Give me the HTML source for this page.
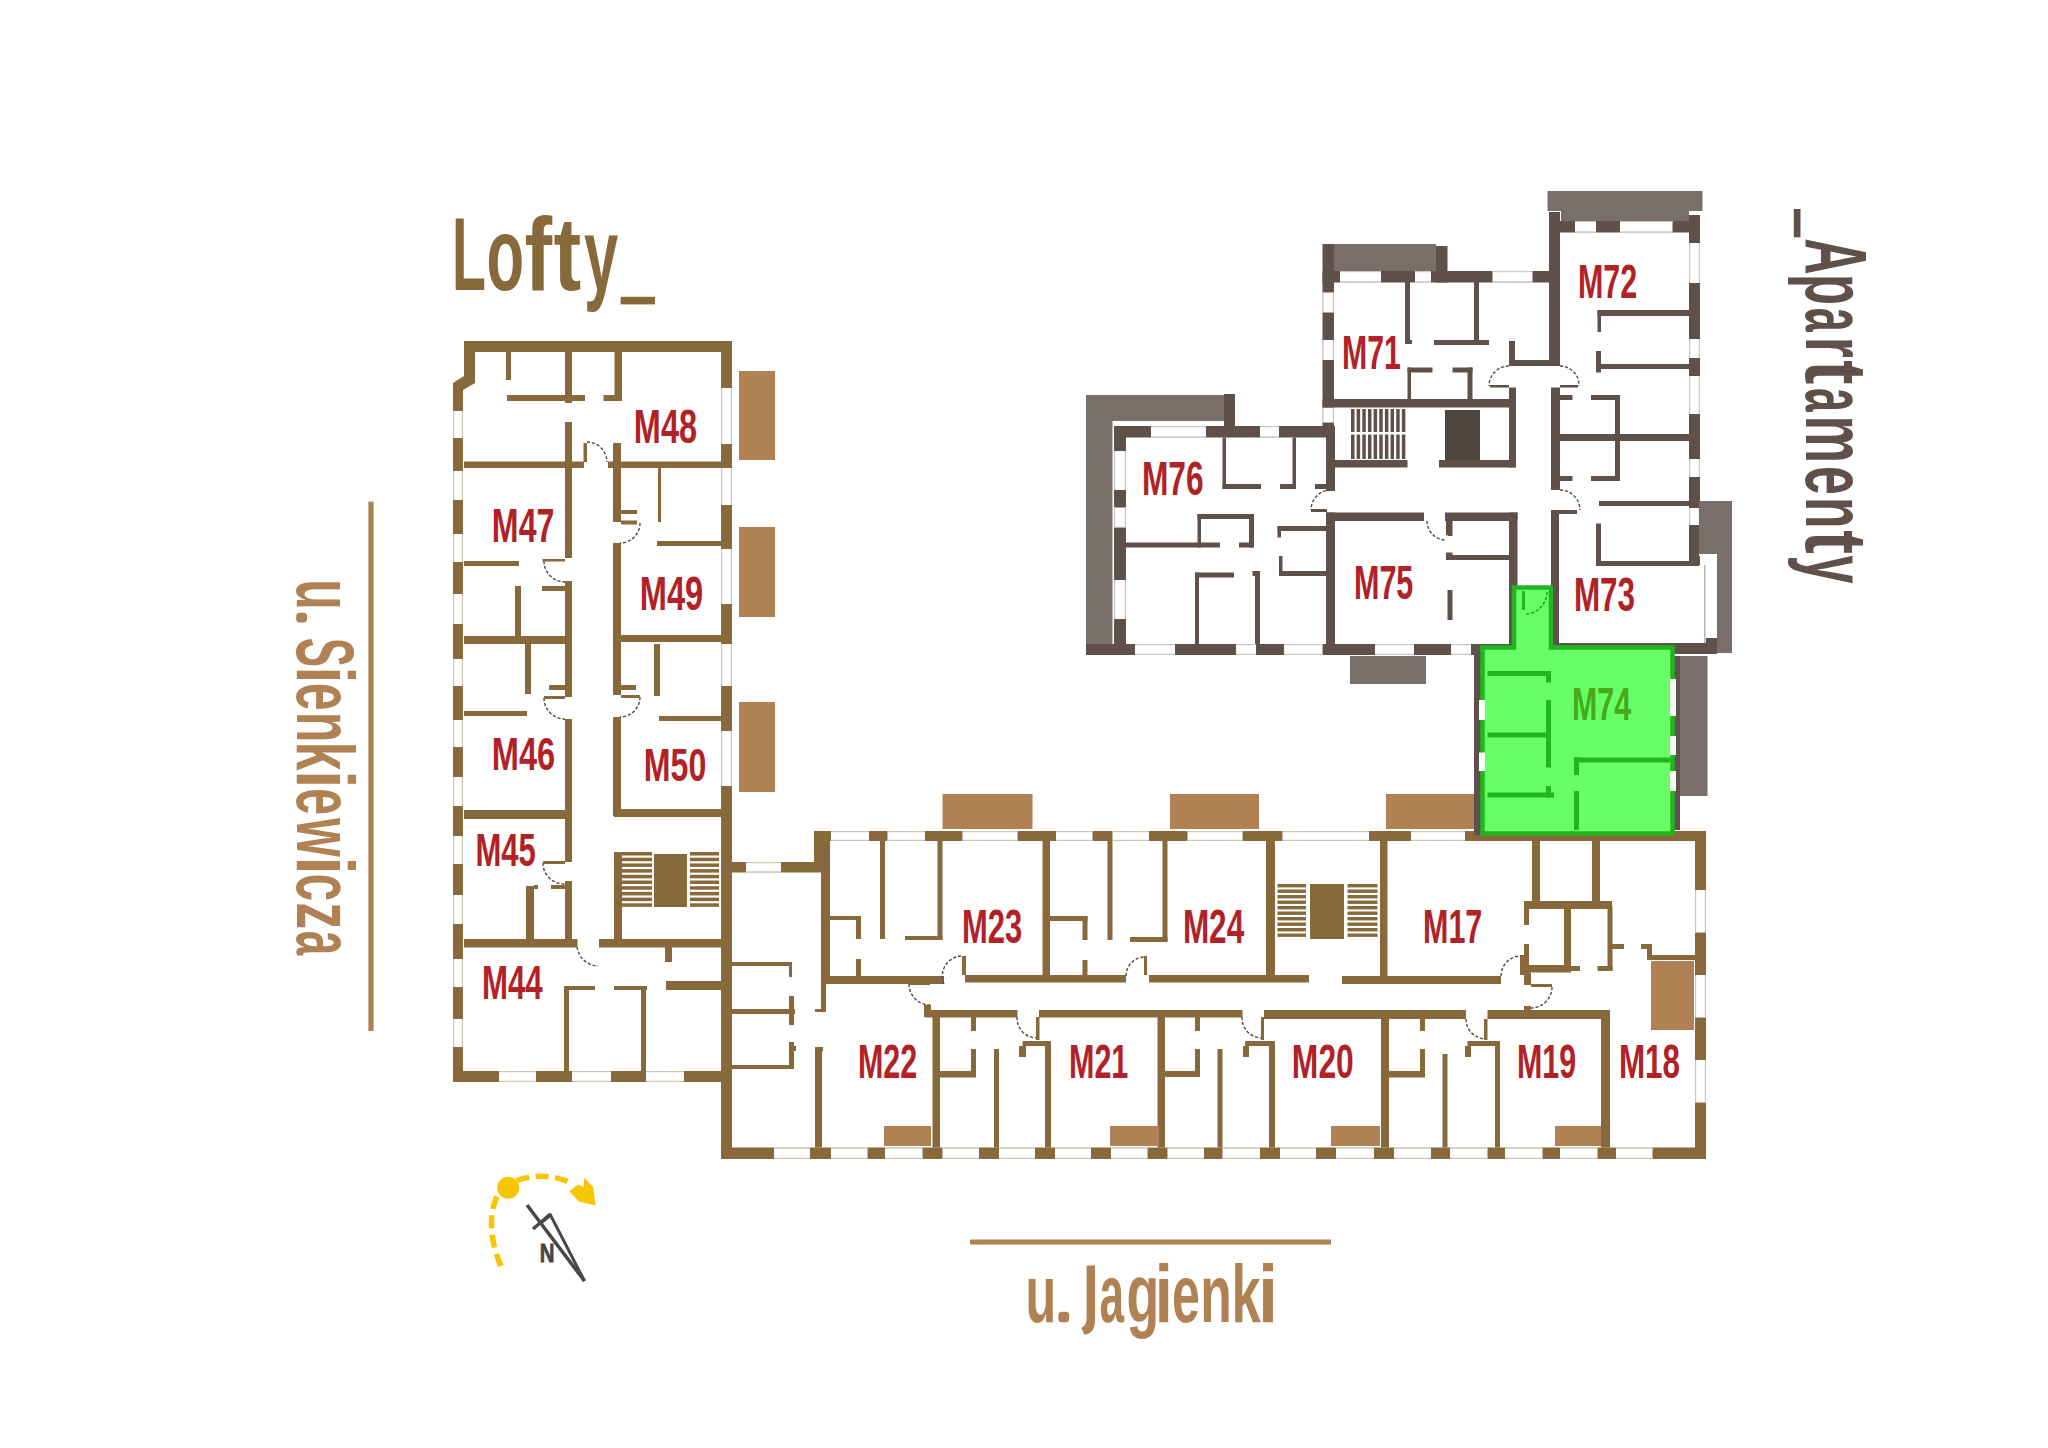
<!DOCTYPE html>
<html><head><meta charset="utf-8"><style>
html,body{margin:0;padding:0;background:#fff;width:2048px;height:1448px;overflow:hidden}
svg{display:block}
text{font-family:"Liberation Sans",sans-serif}
</style></head><body>
<svg width="2048" height="1448" viewBox="0 0 2048 1448">
<rect width="2048" height="1448" fill="#fff"/>
<rect x="464" y="341" width="268" height="11" fill="#87693b"/>
<polygon points="464,341 475,341 475,383 463,390 463,1082 453,1082 453,383 464,376" fill="#87693b"/>
<rect x="453" y="1071" width="278" height="11" fill="#87693b"/>
<rect x="721" y="341" width="11" height="818" fill="#87693b"/>
<rect x="453" y="411" width="10" height="27" fill="#fff"/>
<rect x="453" y="411" width="1.2" height="27" fill="#cdc5b5"/>
<rect x="461.8" y="411" width="1.2" height="27" fill="#cdc5b5"/>
<rect x="453" y="471" width="10" height="29" fill="#fff"/>
<rect x="453" y="471" width="1.2" height="29" fill="#cdc5b5"/>
<rect x="461.8" y="471" width="1.2" height="29" fill="#cdc5b5"/>
<rect x="453" y="534" width="10" height="28" fill="#fff"/>
<rect x="453" y="534" width="1.2" height="28" fill="#cdc5b5"/>
<rect x="461.8" y="534" width="1.2" height="28" fill="#cdc5b5"/>
<rect x="453" y="594" width="10" height="30" fill="#fff"/>
<rect x="453" y="594" width="1.2" height="30" fill="#cdc5b5"/>
<rect x="461.8" y="594" width="1.2" height="30" fill="#cdc5b5"/>
<rect x="453" y="659" width="10" height="27" fill="#fff"/>
<rect x="453" y="659" width="1.2" height="27" fill="#cdc5b5"/>
<rect x="461.8" y="659" width="1.2" height="27" fill="#cdc5b5"/>
<rect x="453" y="720" width="10" height="27" fill="#fff"/>
<rect x="453" y="720" width="1.2" height="27" fill="#cdc5b5"/>
<rect x="461.8" y="720" width="1.2" height="27" fill="#cdc5b5"/>
<rect x="453" y="777" width="10" height="29" fill="#fff"/>
<rect x="453" y="777" width="1.2" height="29" fill="#cdc5b5"/>
<rect x="461.8" y="777" width="1.2" height="29" fill="#cdc5b5"/>
<rect x="453" y="836" width="10" height="28" fill="#fff"/>
<rect x="453" y="836" width="1.2" height="28" fill="#cdc5b5"/>
<rect x="461.8" y="836" width="1.2" height="28" fill="#cdc5b5"/>
<rect x="453" y="895" width="10" height="29" fill="#fff"/>
<rect x="453" y="895" width="1.2" height="29" fill="#cdc5b5"/>
<rect x="461.8" y="895" width="1.2" height="29" fill="#cdc5b5"/>
<rect x="453" y="959" width="10" height="28" fill="#fff"/>
<rect x="453" y="959" width="1.2" height="28" fill="#cdc5b5"/>
<rect x="461.8" y="959" width="1.2" height="28" fill="#cdc5b5"/>
<rect x="453" y="1019" width="10" height="28" fill="#fff"/>
<rect x="453" y="1019" width="1.2" height="28" fill="#cdc5b5"/>
<rect x="461.8" y="1019" width="1.2" height="28" fill="#cdc5b5"/>
<rect x="721" y="388" width="11" height="56" fill="#fff"/>
<rect x="721" y="388" width="1.2" height="56" fill="#cdc5b5"/>
<rect x="730.8" y="388" width="1.2" height="56" fill="#cdc5b5"/>
<rect x="721" y="468" width="11" height="37" fill="#fff"/>
<rect x="721" y="468" width="1.2" height="37" fill="#cdc5b5"/>
<rect x="730.8" y="468" width="1.2" height="37" fill="#cdc5b5"/>
<rect x="721" y="549" width="11" height="55" fill="#fff"/>
<rect x="721" y="549" width="1.2" height="55" fill="#cdc5b5"/>
<rect x="730.8" y="549" width="1.2" height="55" fill="#cdc5b5"/>
<rect x="721" y="644" width="11" height="42" fill="#fff"/>
<rect x="721" y="644" width="1.2" height="42" fill="#cdc5b5"/>
<rect x="730.8" y="644" width="1.2" height="42" fill="#cdc5b5"/>
<rect x="721" y="731" width="11" height="55" fill="#fff"/>
<rect x="721" y="731" width="1.2" height="55" fill="#cdc5b5"/>
<rect x="730.8" y="731" width="1.2" height="55" fill="#cdc5b5"/>
<rect x="499" y="1071" width="37" height="11" fill="#fff"/>
<rect x="499" y="1071" width="37" height="1.2" fill="#cdc5b5"/>
<rect x="499" y="1080.8" width="37" height="1.2" fill="#cdc5b5"/>
<rect x="572" y="1071" width="39" height="11" fill="#fff"/>
<rect x="572" y="1071" width="39" height="1.2" fill="#cdc5b5"/>
<rect x="572" y="1080.8" width="39" height="1.2" fill="#cdc5b5"/>
<rect x="646" y="1071" width="38" height="11" fill="#fff"/>
<rect x="646" y="1071" width="38" height="1.2" fill="#cdc5b5"/>
<rect x="646" y="1080.8" width="38" height="1.2" fill="#cdc5b5"/>
<rect x="739" y="371" width="36" height="89" fill="#b08253"/>
<rect x="739" y="527" width="36" height="90" fill="#b08253"/>
<rect x="739" y="702" width="36" height="90" fill="#b08253"/>
<rect x="565" y="352" width="7" height="51" fill="#87693b"/>
<rect x="565" y="422" width="7" height="136" fill="#87693b"/>
<rect x="565" y="581" width="7" height="116" fill="#87693b"/>
<rect x="565" y="719" width="7" height="143" fill="#87693b"/>
<rect x="565" y="881" width="7" height="59" fill="#87693b"/>
<rect x="613" y="443" width="8" height="79" fill="#87693b"/>
<rect x="613" y="543" width="8" height="152" fill="#87693b"/>
<rect x="613" y="717" width="8" height="99" fill="#87693b"/>
<rect x="464" y="461.5" width="120" height="6.5" fill="#87693b"/>
<rect x="608" y="461.5" width="113" height="6.5" fill="#87693b"/>
<rect x="583.5" y="443" width="3.5" height="19" fill="#87693b"/>
<rect x="506" y="352" width="5" height="28" fill="#87693b"/>
<rect x="507" y="395" width="78" height="6" fill="#87693b"/>
<rect x="603.5" y="395" width="18.5" height="6" fill="#87693b"/>
<rect x="614.5" y="352" width="7.5" height="47" fill="#87693b"/>
<rect x="464" y="561" width="55" height="5" fill="#87693b"/>
<rect x="515" y="586" width="6" height="50" fill="#87693b"/>
<rect x="542" y="586" width="23" height="5" fill="#87693b"/>
<rect x="464" y="636" width="108" height="8" fill="#87693b"/>
<rect x="464" y="711" width="63" height="5" fill="#87693b"/>
<rect x="525" y="644" width="6" height="50" fill="#87693b"/>
<rect x="549" y="685" width="16" height="5" fill="#87693b"/>
<rect x="464" y="810" width="108" height="9" fill="#87693b"/>
<rect x="526" y="886" width="8" height="54" fill="#87693b"/>
<rect x="534" y="885" width="4" height="4" fill="#87693b"/>
<rect x="551" y="885" width="14" height="4" fill="#87693b"/>
<rect x="464" y="939" width="113.5" height="8.5" fill="#87693b"/>
<rect x="599" y="939" width="122" height="8.5" fill="#87693b"/>
<rect x="665" y="947" width="7" height="15" fill="#87693b"/>
<rect x="666" y="981" width="55" height="9" fill="#87693b"/>
<rect x="564" y="986" width="31" height="4" fill="#87693b"/>
<rect x="614" y="986" width="33" height="4" fill="#87693b"/>
<rect x="564" y="986" width="5" height="85" fill="#87693b"/>
<rect x="641" y="986" width="5" height="85" fill="#87693b"/>
<rect x="614" y="852" width="8" height="88" fill="#87693b"/>
<rect x="622" y="852.0" width="30" height="3.53" fill="#87693b"/>
<rect x="622" y="857.7" width="30" height="3.53" fill="#87693b"/>
<rect x="622" y="863.4" width="30" height="3.53" fill="#87693b"/>
<rect x="622" y="869.1" width="30" height="3.53" fill="#87693b"/>
<rect x="622" y="874.8" width="30" height="3.53" fill="#87693b"/>
<rect x="622" y="880.5" width="30" height="3.53" fill="#87693b"/>
<rect x="622" y="886.2" width="30" height="3.53" fill="#87693b"/>
<rect x="622" y="891.9" width="30" height="3.53" fill="#87693b"/>
<rect x="622" y="897.6" width="30" height="3.53" fill="#87693b"/>
<rect x="622" y="903.3" width="30" height="3.53" fill="#87693b"/>
<rect x="690" y="852.0" width="29" height="3.53" fill="#87693b"/>
<rect x="690" y="857.7" width="29" height="3.53" fill="#87693b"/>
<rect x="690" y="863.4" width="29" height="3.53" fill="#87693b"/>
<rect x="690" y="869.1" width="29" height="3.53" fill="#87693b"/>
<rect x="690" y="874.8" width="29" height="3.53" fill="#87693b"/>
<rect x="690" y="880.5" width="29" height="3.53" fill="#87693b"/>
<rect x="690" y="886.2" width="29" height="3.53" fill="#87693b"/>
<rect x="690" y="891.9" width="29" height="3.53" fill="#87693b"/>
<rect x="690" y="897.6" width="29" height="3.53" fill="#87693b"/>
<rect x="690" y="903.3" width="29" height="3.53" fill="#87693b"/>
<rect x="654" y="854" width="33" height="53" fill="#87693b"/>
<rect x="657" y="541" width="64" height="5" fill="#87693b"/>
<rect x="621" y="510" width="16" height="4" fill="#87693b"/>
<rect x="621" y="520.5" width="16" height="4.0" fill="#87693b"/>
<rect x="658" y="468" width="3" height="54" fill="#87693b"/>
<rect x="621" y="635" width="100" height="7" fill="#87693b"/>
<rect x="654" y="644" width="6" height="52" fill="#87693b"/>
<rect x="621" y="685" width="15" height="5" fill="#87693b"/>
<rect x="659" y="716" width="62" height="5" fill="#87693b"/>
<rect x="614" y="809" width="107" height="8" fill="#87693b"/>
<path d="M587,442 A20,20 0 0 1 607,462" fill="none" stroke="#58503f" stroke-width="1.4" stroke-dasharray="3.2 1.8"/>
<path d="M640,523 A20,20 0 0 1 620,543" fill="none" stroke="#58503f" stroke-width="1.4" stroke-dasharray="3.2 1.8"/>
<path d="M544,561 A21,21 0 0 0 565,582" fill="none" stroke="#58503f" stroke-width="1.4" stroke-dasharray="3.2 1.8"/>
<rect x="542.5" y="559" width="22.5" height="2.5" fill="#87693b"/>
<path d="M640,697 A20,20 0 0 1 620,717" fill="none" stroke="#58503f" stroke-width="1.4" stroke-dasharray="3.2 1.8"/>
<rect x="621" y="695" width="19" height="3" fill="#87693b"/>
<path d="M544,698 A21,21 0 0 0 565,719" fill="none" stroke="#58503f" stroke-width="1.4" stroke-dasharray="3.2 1.8"/>
<rect x="544" y="696" width="21" height="3" fill="#87693b"/>
<path d="M543,863 A21,21 0 0 0 565,884" fill="none" stroke="#58503f" stroke-width="1.4" stroke-dasharray="3.2 1.8"/>
<rect x="543" y="861" width="22" height="3" fill="#87693b"/>
<path d="M577,947 A22,22 0 0 0 598,966" fill="none" stroke="#58503f" stroke-width="1.4" stroke-dasharray="3.2 1.8"/>
<rect x="731" y="862" width="91" height="10.5" fill="#87693b"/>
<rect x="746" y="862" width="35" height="10.5" fill="#fff"/>
<rect x="746" y="862" width="35" height="1.2" fill="#cdc5b5"/>
<rect x="746" y="871.3" width="35" height="1.2" fill="#cdc5b5"/>
<rect x="814" y="831" width="16" height="41" fill="#87693b"/>
<rect x="814" y="831" width="892" height="10" fill="#87693b"/>
<rect x="831" y="831" width="38" height="10" fill="#fff"/>
<rect x="831" y="831" width="38" height="1.2" fill="#cdc5b5"/>
<rect x="831" y="839.8" width="38" height="1.2" fill="#cdc5b5"/>
<rect x="887.5" y="831" width="37.5" height="10" fill="#fff"/>
<rect x="887.5" y="831" width="37.5" height="1.2" fill="#cdc5b5"/>
<rect x="887.5" y="839.8" width="37.5" height="1.2" fill="#cdc5b5"/>
<rect x="962.5" y="831" width="55.0" height="10" fill="#fff"/>
<rect x="962.5" y="831" width="55.0" height="1.2" fill="#cdc5b5"/>
<rect x="962.5" y="839.8" width="55.0" height="1.2" fill="#cdc5b5"/>
<rect x="1056" y="831" width="36.5" height="10" fill="#fff"/>
<rect x="1056" y="831" width="36.5" height="1.2" fill="#cdc5b5"/>
<rect x="1056" y="839.8" width="36.5" height="1.2" fill="#cdc5b5"/>
<rect x="1112.5" y="831" width="36.5" height="10" fill="#fff"/>
<rect x="1112.5" y="831" width="36.5" height="1.2" fill="#cdc5b5"/>
<rect x="1112.5" y="839.8" width="36.5" height="1.2" fill="#cdc5b5"/>
<rect x="1187.5" y="831" width="55.0" height="10" fill="#fff"/>
<rect x="1187.5" y="831" width="55.0" height="1.2" fill="#cdc5b5"/>
<rect x="1187.5" y="839.8" width="55.0" height="1.2" fill="#cdc5b5"/>
<rect x="1282.5" y="831" width="86.5" height="10" fill="#fff"/>
<rect x="1282.5" y="831" width="86.5" height="1.2" fill="#cdc5b5"/>
<rect x="1282.5" y="839.8" width="86.5" height="1.2" fill="#cdc5b5"/>
<rect x="1411" y="831" width="54" height="10" fill="#fff"/>
<rect x="1411" y="831" width="54" height="1.2" fill="#cdc5b5"/>
<rect x="1411" y="839.8" width="54" height="1.2" fill="#cdc5b5"/>
<rect x="721" y="1147.5" width="985" height="11.5" fill="#87693b"/>
<rect x="774" y="1147.5" width="36" height="11.5" fill="#fff"/>
<rect x="774" y="1147.5" width="36" height="1.2" fill="#cdc5b5"/>
<rect x="774" y="1157.8" width="36" height="1.2" fill="#cdc5b5"/>
<rect x="831" y="1147.5" width="36.5" height="11.5" fill="#fff"/>
<rect x="831" y="1147.5" width="36.5" height="1.2" fill="#cdc5b5"/>
<rect x="831" y="1157.8" width="36.5" height="1.2" fill="#cdc5b5"/>
<rect x="885" y="1147.5" width="37.5" height="11.5" fill="#fff"/>
<rect x="885" y="1147.5" width="37.5" height="1.2" fill="#cdc5b5"/>
<rect x="885" y="1157.8" width="37.5" height="1.2" fill="#cdc5b5"/>
<rect x="942.5" y="1147.5" width="36.5" height="11.5" fill="#fff"/>
<rect x="942.5" y="1147.5" width="36.5" height="1.2" fill="#cdc5b5"/>
<rect x="942.5" y="1157.8" width="36.5" height="1.2" fill="#cdc5b5"/>
<rect x="999" y="1147.5" width="36" height="11.5" fill="#fff"/>
<rect x="999" y="1147.5" width="36" height="1.2" fill="#cdc5b5"/>
<rect x="999" y="1157.8" width="36" height="1.2" fill="#cdc5b5"/>
<rect x="1055" y="1147.5" width="36" height="11.5" fill="#fff"/>
<rect x="1055" y="1147.5" width="36" height="1.2" fill="#cdc5b5"/>
<rect x="1055" y="1157.8" width="36" height="1.2" fill="#cdc5b5"/>
<rect x="1111" y="1147.5" width="36.5" height="11.5" fill="#fff"/>
<rect x="1111" y="1147.5" width="36.5" height="1.2" fill="#cdc5b5"/>
<rect x="1111" y="1157.8" width="36.5" height="1.2" fill="#cdc5b5"/>
<rect x="1167.5" y="1147.5" width="36.5" height="11.5" fill="#fff"/>
<rect x="1167.5" y="1147.5" width="36.5" height="1.2" fill="#cdc5b5"/>
<rect x="1167.5" y="1157.8" width="36.5" height="1.2" fill="#cdc5b5"/>
<rect x="1222.5" y="1147.5" width="37.5" height="11.5" fill="#fff"/>
<rect x="1222.5" y="1147.5" width="37.5" height="1.2" fill="#cdc5b5"/>
<rect x="1222.5" y="1157.8" width="37.5" height="1.2" fill="#cdc5b5"/>
<rect x="1280" y="1147.5" width="36" height="11.5" fill="#fff"/>
<rect x="1280" y="1147.5" width="36" height="1.2" fill="#cdc5b5"/>
<rect x="1280" y="1157.8" width="36" height="1.2" fill="#cdc5b5"/>
<rect x="1336" y="1147.5" width="38" height="11.5" fill="#fff"/>
<rect x="1336" y="1147.5" width="38" height="1.2" fill="#cdc5b5"/>
<rect x="1336" y="1157.8" width="38" height="1.2" fill="#cdc5b5"/>
<rect x="1394" y="1147.5" width="37" height="11.5" fill="#fff"/>
<rect x="1394" y="1147.5" width="37" height="1.2" fill="#cdc5b5"/>
<rect x="1394" y="1157.8" width="37" height="1.2" fill="#cdc5b5"/>
<rect x="1450" y="1147.5" width="37.5" height="11.5" fill="#fff"/>
<rect x="1450" y="1147.5" width="37.5" height="1.2" fill="#cdc5b5"/>
<rect x="1450" y="1157.8" width="37.5" height="1.2" fill="#cdc5b5"/>
<rect x="1505" y="1147.5" width="37.5" height="11.5" fill="#fff"/>
<rect x="1505" y="1147.5" width="37.5" height="1.2" fill="#cdc5b5"/>
<rect x="1505" y="1157.8" width="37.5" height="1.2" fill="#cdc5b5"/>
<rect x="1560" y="1147.5" width="37.5" height="11.5" fill="#fff"/>
<rect x="1560" y="1147.5" width="37.5" height="1.2" fill="#cdc5b5"/>
<rect x="1560" y="1157.8" width="37.5" height="1.2" fill="#cdc5b5"/>
<rect x="1616" y="1147.5" width="36.5" height="11.5" fill="#fff"/>
<rect x="1616" y="1147.5" width="36.5" height="1.2" fill="#cdc5b5"/>
<rect x="1616" y="1157.8" width="36.5" height="1.2" fill="#cdc5b5"/>
<rect x="1695" y="831" width="11" height="328" fill="#87693b"/>
<rect x="1695" y="890" width="11" height="42.5" fill="#fff"/>
<rect x="1695" y="890" width="1.2" height="42.5" fill="#cdc5b5"/>
<rect x="1704.8" y="890" width="1.2" height="42.5" fill="#cdc5b5"/>
<rect x="1695" y="975" width="11" height="42.5" fill="#fff"/>
<rect x="1695" y="975" width="1.2" height="42.5" fill="#cdc5b5"/>
<rect x="1704.8" y="975" width="1.2" height="42.5" fill="#cdc5b5"/>
<rect x="1695" y="1060" width="11" height="42.5" fill="#fff"/>
<rect x="1695" y="1060" width="1.2" height="42.5" fill="#cdc5b5"/>
<rect x="1704.8" y="1060" width="1.2" height="42.5" fill="#cdc5b5"/>
<rect x="821" y="872" width="5" height="140" fill="#87693b"/>
<rect x="731" y="962" width="61" height="4" fill="#87693b"/>
<rect x="789" y="962" width="3" height="15" fill="#87693b"/>
<rect x="731" y="1009" width="64" height="5" fill="#87693b"/>
<rect x="789" y="996" width="5" height="29" fill="#87693b"/>
<rect x="815" y="1009" width="10" height="3" fill="#87693b"/>
<rect x="731" y="1065" width="61" height="4" fill="#87693b"/>
<rect x="789" y="1042" width="5" height="27" fill="#87693b"/>
<rect x="789" y="1046" width="7" height="5" fill="#87693b"/>
<rect x="815" y="1047" width="7" height="100.5" fill="#87693b"/>
<rect x="815" y="1047" width="8" height="4" fill="#87693b"/>
<rect x="826" y="841" width="4" height="141" fill="#87693b"/>
<rect x="826" y="976" width="118" height="8" fill="#87693b"/>
<rect x="830" y="916" width="30" height="4" fill="#87693b"/>
<rect x="856" y="916" width="5" height="23" fill="#87693b"/>
<rect x="856" y="959" width="5" height="17" fill="#87693b"/>
<rect x="880" y="841" width="5" height="98" fill="#87693b"/>
<rect x="905" y="936" width="37.5" height="4" fill="#87693b"/>
<rect x="937.5" y="841" width="5.0" height="99" fill="#87693b"/>
<rect x="962" y="956" width="4" height="19" fill="#87693b"/>
<rect x="965" y="975" width="161" height="7.5" fill="#87693b"/>
<rect x="1042.5" y="841" width="7.5" height="134" fill="#87693b"/>
<rect x="1050" y="916" width="37.5" height="5" fill="#87693b"/>
<rect x="1082.5" y="916" width="5.0" height="24" fill="#87693b"/>
<rect x="1082.5" y="960" width="5.0" height="15" fill="#87693b"/>
<rect x="1107.5" y="841" width="5.0" height="99" fill="#87693b"/>
<rect x="1162.5" y="841" width="5.0" height="101" fill="#87693b"/>
<rect x="1130" y="937" width="37.5" height="5" fill="#87693b"/>
<rect x="1144" y="956" width="3" height="19" fill="#87693b"/>
<rect x="1149" y="975" width="160" height="7.5" fill="#87693b"/>
<rect x="1266" y="841" width="9" height="134" fill="#87693b"/>
<rect x="1277.5" y="884.0" width="28.5" height="3.41" fill="#87693b"/>
<rect x="1277.5" y="889.5" width="28.5" height="3.41" fill="#87693b"/>
<rect x="1277.5" y="895.0" width="28.5" height="3.41" fill="#87693b"/>
<rect x="1277.5" y="900.5" width="28.5" height="3.41" fill="#87693b"/>
<rect x="1277.5" y="906.0" width="28.5" height="3.41" fill="#87693b"/>
<rect x="1277.5" y="911.5" width="28.5" height="3.41" fill="#87693b"/>
<rect x="1277.5" y="917.0" width="28.5" height="3.41" fill="#87693b"/>
<rect x="1277.5" y="922.5" width="28.5" height="3.41" fill="#87693b"/>
<rect x="1277.5" y="928.0" width="28.5" height="3.41" fill="#87693b"/>
<rect x="1277.5" y="933.5" width="28.5" height="3.41" fill="#87693b"/>
<rect x="1310" y="884" width="34" height="55" fill="#87693b"/>
<rect x="1347.5" y="884.0" width="30.0" height="3.41" fill="#87693b"/>
<rect x="1347.5" y="889.5" width="30.0" height="3.41" fill="#87693b"/>
<rect x="1347.5" y="895.0" width="30.0" height="3.41" fill="#87693b"/>
<rect x="1347.5" y="900.5" width="30.0" height="3.41" fill="#87693b"/>
<rect x="1347.5" y="906.0" width="30.0" height="3.41" fill="#87693b"/>
<rect x="1347.5" y="911.5" width="30.0" height="3.41" fill="#87693b"/>
<rect x="1347.5" y="917.0" width="30.0" height="3.41" fill="#87693b"/>
<rect x="1347.5" y="922.5" width="30.0" height="3.41" fill="#87693b"/>
<rect x="1347.5" y="928.0" width="30.0" height="3.41" fill="#87693b"/>
<rect x="1347.5" y="933.5" width="30.0" height="3.41" fill="#87693b"/>
<rect x="1342" y="976" width="159" height="8" fill="#87693b"/>
<rect x="1380" y="841" width="7.5" height="135" fill="#87693b"/>
<rect x="925" y="1010" width="92.5" height="7.5" fill="#87693b"/>
<rect x="924" y="1005" width="7" height="12" fill="#87693b"/>
<rect x="1039" y="1010" width="203.5" height="7.5" fill="#87693b"/>
<rect x="1264" y="1010" width="202" height="9" fill="#87693b"/>
<rect x="1487.5" y="1010" width="122.5" height="9" fill="#87693b"/>
<rect x="932.5" y="1012" width="7.5" height="135.5" fill="#87693b"/>
<rect x="940" y="1071" width="36" height="6.5" fill="#87693b"/>
<rect x="971" y="1049" width="5" height="28" fill="#87693b"/>
<rect x="971" y="1017" width="5" height="14" fill="#87693b"/>
<rect x="994" y="1049" width="5" height="98.5" fill="#87693b"/>
<rect x="1022.5" y="1041" width="28.5" height="5" fill="#87693b"/>
<rect x="1019" y="1046" width="7" height="11" fill="#87693b"/>
<rect x="1045" y="1041" width="6" height="106.5" fill="#87693b"/>
<rect x="1157.5" y="1012" width="7.5" height="135.5" fill="#87693b"/>
<rect x="1165" y="1071" width="35" height="6" fill="#87693b"/>
<rect x="1195" y="1049" width="5" height="28" fill="#87693b"/>
<rect x="1195" y="1017" width="5" height="14" fill="#87693b"/>
<rect x="1217.5" y="1049" width="5.0" height="98.5" fill="#87693b"/>
<rect x="1245" y="1041" width="30" height="5" fill="#87693b"/>
<rect x="1243" y="1046" width="6" height="11" fill="#87693b"/>
<rect x="1269" y="1041" width="6" height="106.5" fill="#87693b"/>
<rect x="1381" y="1019" width="8" height="128.5" fill="#87693b"/>
<rect x="1389" y="1071" width="36" height="6.5" fill="#87693b"/>
<rect x="1420" y="1049" width="5" height="28" fill="#87693b"/>
<rect x="1420" y="1019" width="5" height="12" fill="#87693b"/>
<rect x="1442.5" y="1054" width="5.0" height="93.5" fill="#87693b"/>
<rect x="1467.5" y="1041" width="32.5" height="5" fill="#87693b"/>
<rect x="1465" y="1046" width="6" height="11" fill="#87693b"/>
<rect x="1495" y="1041" width="5" height="106.5" fill="#87693b"/>
<rect x="1601" y="1010" width="9" height="137.5" fill="#87693b"/>
<rect x="1532" y="841" width="8" height="63" fill="#87693b"/>
<rect x="1592" y="841" width="8" height="63" fill="#87693b"/>
<rect x="1524" y="901" width="88" height="8" fill="#87693b"/>
<rect x="1524" y="904" width="5" height="21" fill="#87693b"/>
<rect x="1524" y="944" width="5" height="41" fill="#87693b"/>
<rect x="1564" y="909" width="7" height="61" fill="#87693b"/>
<rect x="1529" y="965" width="42" height="7.5" fill="#87693b"/>
<rect x="1607.5" y="906" width="5.0" height="65" fill="#87693b"/>
<rect x="1571" y="966" width="9" height="5" fill="#87693b"/>
<rect x="1597.5" y="966" width="15.0" height="5" fill="#87693b"/>
<rect x="1612" y="944" width="12" height="5" fill="#87693b"/>
<rect x="1641" y="944" width="11" height="5" fill="#87693b"/>
<rect x="1647" y="944" width="5" height="15" fill="#87693b"/>
<rect x="1647" y="955" width="48" height="5" fill="#87693b"/>
<rect x="1520" y="955" width="4" height="20" fill="#87693b"/>
<rect x="1524" y="972.5" width="7" height="12.5" fill="#87693b"/>
<rect x="1531" y="984" width="21" height="3" fill="#87693b"/>
<rect x="1524" y="1006" width="7" height="5" fill="#87693b"/>
<path d="M944,984 A20,20 0 0 1 962,956" fill="none" stroke="#58503f" stroke-width="1.4" stroke-dasharray="3.2 1.8"/>
<path d="M1126,976 A19,19 0 0 1 1145,957" fill="none" stroke="#58503f" stroke-width="1.4" stroke-dasharray="3.2 1.8"/>
<path d="M1501,976 A20,20 0 0 1 1521,956" fill="none" stroke="#58503f" stroke-width="1.4" stroke-dasharray="3.2 1.8"/>
<path d="M1552,987 A21,21 0 0 1 1531,1008" fill="none" stroke="#58503f" stroke-width="1.4" stroke-dasharray="3.2 1.8"/>
<path d="M909,984 A21,21 0 0 0 930,1005" fill="none" stroke="#58503f" stroke-width="1.4" stroke-dasharray="3.2 1.8"/>
<rect x="909" y="982" width="21" height="3" fill="#87693b"/>
<path d="M1017,1017 A20,20 0 0 0 1037,1038" fill="none" stroke="#58503f" stroke-width="1.4" stroke-dasharray="3.2 1.8"/>
<rect x="1036" y="1017" width="3.5" height="23" fill="#87693b"/>
<path d="M1242,1017 A20,20 0 0 0 1262,1038" fill="none" stroke="#58503f" stroke-width="1.4" stroke-dasharray="3.2 1.8"/>
<rect x="1261" y="1017" width="3" height="23" fill="#87693b"/>
<path d="M1466,1019 A20,20 0 0 0 1486,1039" fill="none" stroke="#58503f" stroke-width="1.4" stroke-dasharray="3.2 1.8"/>
<rect x="1484" y="1019" width="3.5" height="21" fill="#87693b"/>
<rect x="942.5" y="794" width="90.0" height="35" fill="#b08253"/>
<rect x="1170" y="794" width="89" height="35" fill="#b08253"/>
<rect x="1386" y="794" width="90" height="35" fill="#b08253"/>
<rect x="884" y="1126" width="47" height="20" fill="#b08253"/>
<rect x="1110" y="1126" width="49" height="20" fill="#b08253"/>
<rect x="1331" y="1126" width="49" height="20" fill="#b08253"/>
<rect x="1555" y="1126" width="46" height="20" fill="#b08253"/>
<rect x="1651" y="961" width="43" height="69" fill="#b08253"/>
<rect x="1086" y="395" width="138" height="26" fill="#7a6e6a"/>
<rect x="1086" y="395" width="26.5" height="249" fill="#7a6e6a"/>
<rect x="1224" y="394" width="11" height="32" fill="#5f5049"/>
<rect x="1114" y="426" width="221" height="11.5" fill="#5f5049"/>
<rect x="1151" y="426" width="55" height="11.5" fill="#fff"/>
<rect x="1151" y="426" width="55" height="1.2" fill="#cfc7c3"/>
<rect x="1151" y="436.3" width="55" height="1.2" fill="#cfc7c3"/>
<rect x="1260" y="426" width="19" height="11.5" fill="#fff"/>
<rect x="1260" y="426" width="19" height="1.2" fill="#cfc7c3"/>
<rect x="1260" y="436.3" width="19" height="1.2" fill="#cfc7c3"/>
<rect x="1114" y="426" width="12" height="229" fill="#5f5049"/>
<rect x="1114" y="451" width="12" height="39" fill="#fff"/>
<rect x="1114" y="451" width="1.2" height="39" fill="#cfc7c3"/>
<rect x="1124.8" y="451" width="1.2" height="39" fill="#cfc7c3"/>
<rect x="1114" y="507.5" width="12" height="20.0" fill="#fff"/>
<rect x="1114" y="507.5" width="1.2" height="20.0" fill="#cfc7c3"/>
<rect x="1124.8" y="507.5" width="1.2" height="20.0" fill="#cfc7c3"/>
<rect x="1114" y="580" width="12" height="39" fill="#fff"/>
<rect x="1114" y="580" width="1.2" height="39" fill="#cfc7c3"/>
<rect x="1124.8" y="580" width="1.2" height="39" fill="#cfc7c3"/>
<rect x="1086" y="644" width="431.5" height="11" fill="#5f5049"/>
<rect x="1135" y="644" width="40" height="11" fill="#fff"/>
<rect x="1135" y="644" width="40" height="1.2" fill="#cfc7c3"/>
<rect x="1135" y="653.8" width="40" height="1.2" fill="#cfc7c3"/>
<rect x="1236" y="644" width="20" height="11" fill="#fff"/>
<rect x="1236" y="644" width="20" height="1.2" fill="#cfc7c3"/>
<rect x="1236" y="653.8" width="20" height="1.2" fill="#cfc7c3"/>
<rect x="1284" y="644" width="38.5" height="11" fill="#fff"/>
<rect x="1284" y="644" width="38.5" height="1.2" fill="#cfc7c3"/>
<rect x="1284" y="653.8" width="38.5" height="1.2" fill="#cfc7c3"/>
<rect x="1375" y="644" width="39" height="11" fill="#fff"/>
<rect x="1375" y="644" width="39" height="1.2" fill="#cfc7c3"/>
<rect x="1375" y="653.8" width="39" height="1.2" fill="#cfc7c3"/>
<rect x="1451" y="644" width="20" height="11" fill="#fff"/>
<rect x="1451" y="644" width="20" height="1.2" fill="#cfc7c3"/>
<rect x="1451" y="653.8" width="20" height="1.2" fill="#cfc7c3"/>
<rect x="1350" y="656" width="76" height="28" fill="#7a6e6a"/>
<rect x="1222.5" y="437.5" width="3.5" height="51.5" fill="#5f5049"/>
<rect x="1222.5" y="484" width="38.5" height="5" fill="#5f5049"/>
<rect x="1280" y="484" width="16" height="5" fill="#5f5049"/>
<rect x="1292.5" y="437.5" width="3.5" height="51.5" fill="#5f5049"/>
<rect x="1315" y="484" width="15" height="5" fill="#5f5049"/>
<rect x="1326" y="426" width="9" height="65" fill="#5f5049"/>
<rect x="1126" y="542.5" width="94" height="5.0" fill="#5f5049"/>
<rect x="1197.5" y="514" width="56.5" height="5" fill="#5f5049"/>
<rect x="1197.5" y="514" width="3.5" height="33.5" fill="#5f5049"/>
<rect x="1249" y="514" width="5" height="33.5" fill="#5f5049"/>
<rect x="1239" y="542.5" width="15" height="5.0" fill="#5f5049"/>
<rect x="1277.5" y="526" width="48.5" height="5" fill="#5f5049"/>
<rect x="1277.5" y="526" width="3.5" height="11.5" fill="#5f5049"/>
<rect x="1279" y="571" width="47" height="5" fill="#5f5049"/>
<rect x="1279" y="556" width="3.5" height="20" fill="#5f5049"/>
<rect x="1195" y="572.5" width="39" height="5.0" fill="#5f5049"/>
<rect x="1195" y="572.5" width="4" height="71.5" fill="#5f5049"/>
<rect x="1255" y="572.5" width="5" height="71.5" fill="#5f5049"/>
<rect x="1252.5" y="571" width="7.5" height="5" fill="#5f5049"/>
<rect x="1326" y="512.5" width="9" height="131.5" fill="#5f5049"/>
<rect x="1326" y="512.5" width="98" height="8.5" fill="#5f5049"/>
<rect x="1445" y="512.5" width="72.5" height="8.5" fill="#5f5049"/>
<rect x="1509" y="512.5" width="8.5" height="133.5" fill="#5f5049"/>
<rect x="1447.5" y="521" width="5.0" height="15" fill="#5f5049"/>
<rect x="1446" y="555" width="64" height="5" fill="#5f5049"/>
<rect x="1446" y="552.5" width="6.5" height="7.5" fill="#5f5049"/>
<rect x="1447.5" y="590" width="5.0" height="30" fill="#5f5049"/>
<rect x="1547.5" y="191" width="155.0" height="20" fill="#7a6e6a"/>
<rect x="1561" y="211" width="128" height="10" fill="#7a6e6a"/>
<rect x="1549" y="221" width="151" height="11.5" fill="#5f5049"/>
<rect x="1575" y="221" width="21" height="11.5" fill="#fff"/>
<rect x="1575" y="221" width="21" height="1.2" fill="#cfc7c3"/>
<rect x="1575" y="231.3" width="21" height="1.2" fill="#cfc7c3"/>
<rect x="1620" y="221" width="52.5" height="11.5" fill="#fff"/>
<rect x="1620" y="221" width="52.5" height="1.2" fill="#cfc7c3"/>
<rect x="1620" y="231.3" width="52.5" height="1.2" fill="#cfc7c3"/>
<rect x="1549" y="212" width="11" height="154" fill="#5f5049"/>
<rect x="1689" y="215" width="11" height="350" fill="#5f5049"/>
<rect x="1689" y="243" width="11" height="40" fill="#fff"/>
<rect x="1689" y="243" width="1.2" height="40" fill="#cfc7c3"/>
<rect x="1698.8" y="243" width="1.2" height="40" fill="#cfc7c3"/>
<rect x="1689" y="339" width="11" height="19" fill="#fff"/>
<rect x="1689" y="339" width="1.2" height="19" fill="#cfc7c3"/>
<rect x="1698.8" y="339" width="1.2" height="19" fill="#cfc7c3"/>
<rect x="1689" y="376" width="11" height="38" fill="#fff"/>
<rect x="1689" y="376" width="1.2" height="38" fill="#cfc7c3"/>
<rect x="1698.8" y="376" width="1.2" height="38" fill="#cfc7c3"/>
<rect x="1689" y="459" width="11" height="18" fill="#fff"/>
<rect x="1689" y="459" width="1.2" height="18" fill="#cfc7c3"/>
<rect x="1698.8" y="459" width="1.2" height="18" fill="#cfc7c3"/>
<rect x="1689" y="508" width="11" height="17" fill="#fff"/>
<rect x="1689" y="508" width="1.2" height="17" fill="#cfc7c3"/>
<rect x="1698.8" y="508" width="1.2" height="17" fill="#cfc7c3"/>
<rect x="1334" y="244" width="102" height="27" fill="#7a6e6a"/>
<rect x="1322.5" y="244" width="11.5" height="182" fill="#5f5049"/>
<rect x="1326" y="426" width="8" height="64" fill="#5f5049"/>
<rect x="1322.5" y="292.5" width="11.5" height="20.0" fill="#fff"/>
<rect x="1322.5" y="292.5" width="1.2" height="20.0" fill="#cfc7c3"/>
<rect x="1332.8" y="292.5" width="1.2" height="20.0" fill="#cfc7c3"/>
<rect x="1322.5" y="340" width="11.5" height="20" fill="#fff"/>
<rect x="1322.5" y="340" width="1.2" height="20" fill="#cfc7c3"/>
<rect x="1332.8" y="340" width="1.2" height="20" fill="#cfc7c3"/>
<rect x="1322.5" y="407.5" width="11.5" height="15.0" fill="#fff"/>
<rect x="1322.5" y="407.5" width="1.2" height="15.0" fill="#cfc7c3"/>
<rect x="1332.8" y="407.5" width="1.2" height="15.0" fill="#cfc7c3"/>
<rect x="1436" y="246" width="11.5" height="36.5" fill="#5f5049"/>
<rect x="1322.5" y="271" width="237.5" height="11.5" fill="#5f5049"/>
<rect x="1340" y="271" width="41" height="11.5" fill="#fff"/>
<rect x="1340" y="271" width="41" height="1.2" fill="#cfc7c3"/>
<rect x="1340" y="281.3" width="41" height="1.2" fill="#cfc7c3"/>
<rect x="1415" y="271" width="16" height="11.5" fill="#fff"/>
<rect x="1415" y="271" width="16" height="1.2" fill="#cfc7c3"/>
<rect x="1415" y="281.3" width="16" height="1.2" fill="#cfc7c3"/>
<rect x="1492.5" y="271" width="40.0" height="11.5" fill="#fff"/>
<rect x="1492.5" y="271" width="40.0" height="1.2" fill="#cfc7c3"/>
<rect x="1492.5" y="281.3" width="40.0" height="1.2" fill="#cfc7c3"/>
<rect x="1405" y="282" width="5" height="62" fill="#5f5049"/>
<rect x="1474" y="282" width="5" height="62" fill="#5f5049"/>
<rect x="1434" y="340" width="55" height="5" fill="#5f5049"/>
<rect x="1405" y="340" width="7" height="4" fill="#5f5049"/>
<rect x="1509" y="341" width="6" height="25" fill="#5f5049"/>
<rect x="1509" y="360" width="51" height="6" fill="#5f5049"/>
<rect x="1407.5" y="367.5" width="25.0" height="5.0" fill="#5f5049"/>
<rect x="1407.5" y="367.5" width="3.5" height="32.5" fill="#5f5049"/>
<rect x="1452.5" y="367.5" width="20.0" height="5.0" fill="#5f5049"/>
<rect x="1467.5" y="367.5" width="5.0" height="32.5" fill="#5f5049"/>
<rect x="1322.5" y="399" width="193.5" height="8.5" fill="#5f5049"/>
<rect x="1509" y="387.5" width="7" height="80.0" fill="#5f5049"/>
<rect x="1551" y="387.5" width="9" height="102.5" fill="#5f5049"/>
<rect x="1351.0" y="409" width="3.5" height="50" fill="#5f5049"/>
<rect x="1356.65" y="409" width="3.5" height="50" fill="#5f5049"/>
<rect x="1362.3" y="409" width="3.5" height="50" fill="#5f5049"/>
<rect x="1367.95" y="409" width="3.5" height="50" fill="#5f5049"/>
<rect x="1373.6" y="409" width="3.5" height="50" fill="#5f5049"/>
<rect x="1379.25" y="409" width="3.5" height="50" fill="#5f5049"/>
<rect x="1384.9" y="409" width="3.5" height="50" fill="#5f5049"/>
<rect x="1390.55" y="409" width="3.5" height="50" fill="#5f5049"/>
<rect x="1396.2" y="409" width="3.5" height="50" fill="#5f5049"/>
<rect x="1401.85" y="409" width="3.5" height="50" fill="#5f5049"/>
<rect x="1351" y="432" width="56.5" height="2.5" fill="#fff"/>
<rect x="1445" y="410" width="35" height="50" fill="#4d4540"/>
<rect x="1334" y="460" width="73.5" height="7.5" fill="#5f5049"/>
<rect x="1439" y="460" width="77" height="7.5" fill="#5f5049"/>
<rect x="1446" y="520" width="5" height="15" fill="#5f5049"/>
<rect x="1551" y="511" width="8" height="133" fill="#5f5049"/>
<rect x="1551" y="510" width="26" height="4" fill="#5f5049"/>
<rect x="1597.5" y="310" width="91.5" height="6" fill="#5f5049"/>
<rect x="1597.5" y="310" width="3.5" height="22" fill="#5f5049"/>
<rect x="1597.5" y="364" width="91.5" height="5" fill="#5f5049"/>
<rect x="1596" y="351" width="5" height="21.5" fill="#5f5049"/>
<rect x="1560" y="395" width="12.5" height="5" fill="#5f5049"/>
<rect x="1591" y="395" width="28" height="5" fill="#5f5049"/>
<rect x="1615" y="395" width="5" height="85" fill="#5f5049"/>
<rect x="1560" y="434" width="129" height="7" fill="#5f5049"/>
<rect x="1560" y="476" width="12.5" height="5" fill="#5f5049"/>
<rect x="1591" y="476" width="29" height="5" fill="#5f5049"/>
<rect x="1599" y="501" width="90" height="5" fill="#5f5049"/>
<rect x="1596" y="523.5" width="5" height="42.5" fill="#5f5049"/>
<rect x="1596" y="561" width="103" height="5" fill="#5f5049"/>
<rect x="1551" y="643" width="166" height="11" fill="#5f5049"/>
<rect x="1706" y="638" width="11" height="16" fill="#5f5049"/>
<rect x="1704" y="565" width="1.5" height="78" fill="#bdb3ae"/>
<rect x="1699" y="501" width="33" height="53" fill="#7a6e6a"/>
<rect x="1717" y="554" width="15" height="99" fill="#7a6e6a"/>
<rect x="1699" y="554" width="18" height="2" fill="#fff"/>
<path d="M1509,366 A20,20 0 0 0 1489,386" fill="none" stroke="#58503f" stroke-width="1.4" stroke-dasharray="3.2 1.8"/>
<rect x="1490" y="385" width="19" height="2.5" fill="#5f5049"/>
<path d="M1560,366 A19,19 0 0 1 1579,386" fill="none" stroke="#58503f" stroke-width="1.4" stroke-dasharray="3.2 1.8"/>
<rect x="1560" y="385" width="18" height="2.5" fill="#5f5049"/>
<path d="M1560,490 A20,20 0 0 1 1580,510" fill="none" stroke="#58503f" stroke-width="1.4" stroke-dasharray="3.2 1.8"/>
<path d="M1331,490 A20,20 0 0 0 1311,510" fill="none" stroke="#58503f" stroke-width="1.4" stroke-dasharray="3.2 1.8"/>
<rect x="1311" y="509" width="16" height="3" fill="#5f5049"/>
<path d="M1427,521 A19,19 0 0 0 1446,540" fill="none" stroke="#58503f" stroke-width="1.4" stroke-dasharray="3.2 1.8"/>
<rect x="1474" y="646" width="7" height="189" fill="#5f5049"/>
<rect x="1674" y="656" width="6" height="174" fill="#5f5049"/>
<rect x="1680" y="656" width="27.5" height="140" fill="#7a6e6a"/>
<polygon points="1482.5,647.5 1514,647.5 1514,587.5 1551,587.5 1551,647.5 1672.5,647.5 1672.5,833.5 1482.5,833.5" fill="#66ff66" stroke="#22b51f" stroke-width="4.5"/>
<rect x="1487.5" y="671" width="62.5" height="5" fill="#22b51f"/>
<rect x="1546" y="671" width="5" height="11.5" fill="#22b51f"/>
<rect x="1546" y="700" width="5" height="67.5" fill="#22b51f"/>
<rect x="1487.5" y="732.5" width="60.5" height="5.0" fill="#22b51f"/>
<rect x="1487.5" y="792.5" width="66.5" height="5.0" fill="#22b51f"/>
<rect x="1546" y="786" width="5" height="11.5" fill="#22b51f"/>
<rect x="1574" y="791" width="5" height="39" fill="#22b51f"/>
<rect x="1574" y="757.5" width="96" height="5.0" fill="#22b51f"/>
<rect x="1574" y="757.5" width="5" height="17.5" fill="#22b51f"/>
<path d="M1547,592 A22,22 0 0 1 1525,614" fill="none" stroke="#1f9a1f" stroke-width="1.4" stroke-dasharray="3.2 1.8"/>
<rect x="1522" y="591" width="3" height="19" fill="#22b51f"/>
<rect x="1479" y="700" width="6" height="20" fill="#fff"/>
<rect x="1479" y="752.5" width="6" height="18.5" fill="#fff"/>
<rect x="1670" y="679" width="6" height="37" fill="#f2fff2"/>
<rect x="1670" y="736" width="6" height="19" fill="#f2fff2"/>
<rect x="1670" y="771" width="6" height="20" fill="#f2fff2"/>
<text transform="translate(633.83,443.30) scale(0.6770,1)" font-size="47.97" fill="#b02226" font-family="Liberation Sans" font-weight="bold">M48</text>
<text transform="translate(491.85,542.30) scale(0.6705,1)" font-size="47.97" fill="#b02226" font-family="Liberation Sans" font-weight="bold">M47</text>
<text transform="translate(639.82,609.80) scale(0.6793,1)" font-size="47.97" fill="#b02226" font-family="Liberation Sans" font-weight="bold">M49</text>
<text transform="translate(491.82,770.30) scale(0.7002,1)" font-size="46.51" fill="#b02226" font-family="Liberation Sans" font-weight="bold">M46</text>
<text transform="translate(643.85,781.30) scale(0.6904,1)" font-size="46.51" fill="#b02226" font-family="Liberation Sans" font-weight="bold">M50</text>
<text transform="translate(475.42,866.30) scale(0.6680,1)" font-size="46.51" fill="#b02226" font-family="Liberation Sans" font-weight="bold">M45</text>
<text transform="translate(481.91,999.30) scale(0.6612,1)" font-size="47.24" fill="#b02226" font-family="Liberation Sans" font-weight="bold">M44</text>
<text transform="translate(857.96,1077.80) scale(0.6448,1)" font-size="47.24" fill="#b02226" font-family="Liberation Sans" font-weight="bold">M22</text>
<text transform="translate(961.93,942.80) scale(0.6354,1)" font-size="48.69" fill="#b02226" font-family="Liberation Sans" font-weight="bold">M23</text>
<text transform="translate(1182.89,942.80) scale(0.6469,1)" font-size="48.69" fill="#b02226" font-family="Liberation Sans" font-weight="bold">M24</text>
<text transform="translate(1068.96,1077.80) scale(0.6463,1)" font-size="47.24" fill="#b02226" font-family="Liberation Sans" font-weight="bold">M21</text>
<text transform="translate(1291.87,1077.80) scale(0.6740,1)" font-size="47.24" fill="#b02226" font-family="Liberation Sans" font-weight="bold">M20</text>
<text transform="translate(1422.96,942.80) scale(0.6269,1)" font-size="48.69" fill="#b02226" font-family="Liberation Sans" font-weight="bold">M17</text>
<text transform="translate(1516.97,1077.80) scale(0.6246,1)" font-size="48.69" fill="#b02226" font-family="Liberation Sans" font-weight="bold">M19</text>
<text transform="translate(1618.90,1077.80) scale(0.6447,1)" font-size="48.69" fill="#b02226" font-family="Liberation Sans" font-weight="bold">M18</text>
<text transform="translate(1577.96,297.80) scale(0.6448,1)" font-size="47.24" fill="#b02226" font-family="Liberation Sans" font-weight="bold">M72</text>
<text transform="translate(1341.98,369.30) scale(0.6406,1)" font-size="47.24" fill="#b02226" font-family="Liberation Sans" font-weight="bold">M71</text>
<text transform="translate(1141.88,495.30) scale(0.6521,1)" font-size="48.69" fill="#b02226" font-family="Liberation Sans" font-weight="bold">M76</text>
<text transform="translate(1353.96,599.30) scale(0.6463,1)" font-size="47.24" fill="#b02226" font-family="Liberation Sans" font-weight="bold">M75</text>
<text transform="translate(1573.89,611.30) scale(0.6564,1)" font-size="47.97" fill="#b02226" font-family="Liberation Sans" font-weight="bold">M73</text>
<text transform="translate(1571.96,720.00) scale(0.6543,1)" font-size="46.51" fill="#47aa18" font-family="Liberation Sans" font-weight="bold">M74</text>
<text transform="translate(451.98,289.90) scale(0.5344,1)" font-size="103.93" fill="#87693b" font-family="Liberation Sans" font-weight="bold">L</text>
<text transform="translate(486.59,289.90) scale(0.5925,1)" font-size="103.93" fill="#87693b" font-family="Liberation Sans" font-weight="bold">o</text>
<text transform="translate(524.58,289.90) scale(0.7991,1)" font-size="103.93" fill="#87693b" font-family="Liberation Sans" font-weight="bold">f</text>
<text transform="translate(553.58,289.90) scale(0.8013,1)" font-size="103.93" fill="#87693b" font-family="Liberation Sans" font-weight="bold">t</text>
<text transform="translate(584.12,289.90) scale(0.5919,1)" font-size="103.93" fill="#87693b" font-family="Liberation Sans" font-weight="bold">y</text>
<rect x="620.6" y="296.8" width="34.4" height="7.6" fill="#87693b"/>
<g transform="translate(1805.8,0) rotate(90)">
<text transform="translate(238.15,0.00) scale(0.5835,1)" font-size="86.34" fill="#5f5049" font-family="Liberation Sans" font-weight="bold">A</text>
<text transform="translate(273.95,0.00) scale(0.5884,1)" font-size="86.34" fill="#5f5049" font-family="Liberation Sans" font-weight="bold">p</text>
<text transform="translate(307.74,0.00) scale(0.4996,1)" font-size="86.34" fill="#5f5049" font-family="Liberation Sans" font-weight="bold">a</text>
<text transform="translate(336.65,0.00) scale(0.6240,1)" font-size="86.34" fill="#5f5049" font-family="Liberation Sans" font-weight="bold">r</text>
<text transform="translate(360.10,0.00) scale(0.8520,1)" font-size="86.34" fill="#5f5049" font-family="Liberation Sans" font-weight="bold">t</text>
<text transform="translate(387.95,0.00) scale(0.4953,1)" font-size="86.34" fill="#5f5049" font-family="Liberation Sans" font-weight="bold">a</text>
<text transform="translate(415.48,0.00) scale(0.6193,1)" font-size="86.34" fill="#5f5049" font-family="Liberation Sans" font-weight="bold">m</text>
<text transform="translate(465.98,0.00) scale(0.5996,1)" font-size="86.34" fill="#5f5049" font-family="Liberation Sans" font-weight="bold">e</text>
<text transform="translate(497.10,0.00) scale(0.5972,1)" font-size="86.34" fill="#5f5049" font-family="Liberation Sans" font-weight="bold">n</text>
<text transform="translate(530.13,0.00) scale(0.8257,1)" font-size="86.34" fill="#5f5049" font-family="Liberation Sans" font-weight="bold">t</text>
<text transform="translate(555.30,0.00) scale(0.5909,1)" font-size="86.34" fill="#5f5049" font-family="Liberation Sans" font-weight="bold">y</text>
</g>
<rect x="1793.8" y="209" width="6.7" height="28.3" fill="#5f5049"/>
<g transform="translate(296.6,0) rotate(90)">
<text transform="translate(579.29,0.00) scale(0.6157,1)" font-size="81.40" fill="#b08253" font-family="Liberation Sans" font-weight="bold">u</text>
<text transform="translate(637.74,0.00) scale(0.5393,1)" font-size="81.40" fill="#b08253" font-family="Liberation Sans" font-weight="bold">S</text>
<text transform="translate(666.58,0.00) scale(0.7432,1)" font-size="81.40" fill="#b08253" font-family="Liberation Sans" font-weight="bold">i</text>
<text transform="translate(682.64,0.00) scale(0.6157,1)" font-size="81.40" fill="#b08253" font-family="Liberation Sans" font-weight="bold">e</text>
<text transform="translate(711.70,0.00) scale(0.6157,1)" font-size="81.40" fill="#b08253" font-family="Liberation Sans" font-weight="bold">n</text>
<text transform="translate(741.80,0.00) scale(0.6328,1)" font-size="81.40" fill="#b08253" font-family="Liberation Sans" font-weight="bold">k</text>
<text transform="translate(770.17,0.00) scale(0.7969,1)" font-size="81.40" fill="#b08253" font-family="Liberation Sans" font-weight="bold">i</text>
<text transform="translate(788.01,0.00) scale(0.5953,1)" font-size="81.40" fill="#b08253" font-family="Liberation Sans" font-weight="bold">e</text>
<text transform="translate(818.34,0.00) scale(0.6059,1)" font-size="81.40" fill="#b08253" font-family="Liberation Sans" font-weight="bold">w</text>
<text transform="translate(856.42,0.00) scale(0.8059,1)" font-size="81.40" fill="#b08253" font-family="Liberation Sans" font-weight="bold">i</text>
<text transform="translate(873.56,0.00) scale(0.6095,1)" font-size="81.40" fill="#b08253" font-family="Liberation Sans" font-weight="bold">c</text>
<text transform="translate(902.35,0.00) scale(0.6609,1)" font-size="81.40" fill="#b08253" font-family="Liberation Sans" font-weight="bold">z</text>
<text transform="translate(930.81,0.00) scale(0.5415,1)" font-size="81.40" fill="#b08253" font-family="Liberation Sans" font-weight="bold">a</text>
</g>
<text transform="translate(1025.38,1321.60) scale(0.6182,1)" font-size="81.40" fill="#b08253" font-family="Liberation Sans" font-weight="bold">u</text>
<text transform="translate(1099.41,1321.60) scale(0.5415,1)" font-size="81.40" fill="#b08253" font-family="Liberation Sans" font-weight="bold">a</text>
<text transform="translate(1126.50,1321.60) scale(0.6596,1)" font-size="81.40" fill="#b08253" font-family="Liberation Sans" font-weight="bold">g</text>
<text transform="translate(1154.67,1321.60) scale(0.7969,1)" font-size="81.40" fill="#b08253" font-family="Liberation Sans" font-weight="bold">i</text>
<text transform="translate(1172.04,1321.60) scale(0.6157,1)" font-size="81.40" fill="#b08253" font-family="Liberation Sans" font-weight="bold">e</text>
<text transform="translate(1200.30,1321.60) scale(0.6335,1)" font-size="81.40" fill="#b08253" font-family="Liberation Sans" font-weight="bold">n</text>
<text transform="translate(1231.43,1321.60) scale(0.6454,1)" font-size="81.40" fill="#b08253" font-family="Liberation Sans" font-weight="bold">k</text>
<text transform="translate(1258.06,1321.60) scale(0.8864,1)" font-size="81.40" fill="#b08253" font-family="Liberation Sans" font-weight="bold">i</text>
<path d="M1086.6,1265.6 H1095 V1320 Q1095,1334 1084,1334.5 L1081.5,1327.5 Q1086.6,1326 1086.6,1318 Z" fill="#b08253"/>
<rect x="368.4" y="501.6" width="5.2" height="529.4" fill="#b08253"/>
<rect x="1058.3" y="1311.7" width="10.9" height="10.6" rx="3.5" fill="#b08253"/>
<rect x="296.2" y="612.8" width="10.8" height="9.7" rx="3.5" fill="#b08253"/>
<rect x="970" y="1239.5" width="361" height="5.0" fill="#b08253"/>
<path d="M501,1266 C489,1240 487,1205 503,1188 C525,1172 555,1174 573,1184" fill="none" stroke="#f7c600" stroke-width="5.5" stroke-dasharray="13 6.5"/>
<circle cx="508.2" cy="1187.8" r="11" fill="#f7c600"/>
<polygon points="569.4,1191.3 578,1184.4 583.5,1187.1 584.3,1178 593.1,1187.1 595.6,1205.4 578.8,1201.5" fill="#f7c600"/>
<line x1="527" y1="1205" x2="584.5" y2="1281" stroke="#484646" stroke-width="3.5"/>
<line x1="533" y1="1229" x2="550.5" y2="1214" stroke="#484646" stroke-width="3.5"/>
<polyline points="541,1223 550.5,1215 584.5,1281" fill="none" stroke="#484646" stroke-width="3"/>
<text transform="translate(539.63,1262.00) scale(0.8025,1)" font-size="25.44" fill="#484646" stroke="#484646" stroke-width="0.8" font-family="Liberation Sans" font-weight="bold">N</text>
</svg></body></html>
